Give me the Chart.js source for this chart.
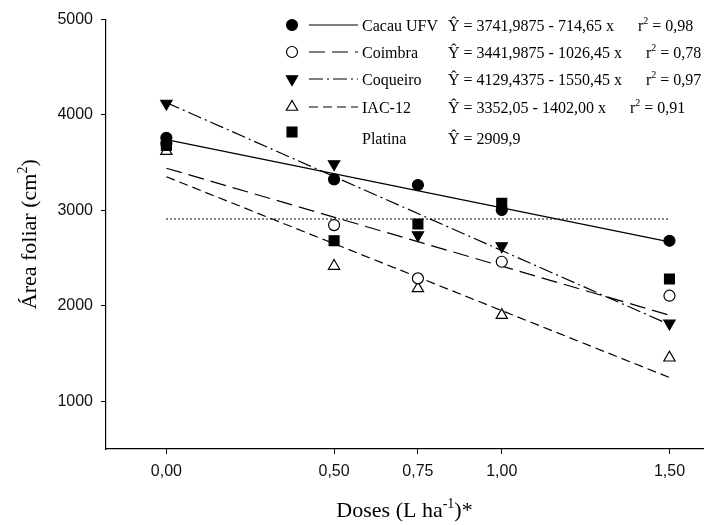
<!DOCTYPE html>
<html>
<head>
<meta charset="utf-8">
<title>Área foliar em função das doses</title>
<script src="https://cdn.jsdelivr.net/npm/chart.js"></script>
<style>
  html, body { margin: 0; padding: 0; background: #fff; }
  #wrap { width: 714px; height: 525px; }
</style>
</head>
<body>
<div id="wrap"><canvas id="grafico" width="714" height="525"></canvas></div>
<script>
// doses (L/ha) e área foliar média (cm2) por cultivar
const doses = [0, 0.5, 0.75, 1.0, 1.5];
const cultivares = ['Cacau UFV', 'Coimbra', 'Coqueiro', 'IAC-12', 'Platina'];
const cacauUFV = [3760, 3325, 3266, 3004, 2682];
const coimbra  = [3700, 2846, 2288, 2462, 2106];
const coqueiro = [4120, 3486, 2742, 2626, 1816];
const iac12    = [3620, 2417, 2183, 1903, 1456];
const platina  = [3680, 2682, 2857, 3074, 2281];

// coeficientes das regressões ajustadas (Platina = média)
const intercepto = [3741.9875, 3441.9875, 4129.4375, 3352.05, 2909.9];
const inclinacao = [-714.65, -1026.45, -1550.45, -1402.00, 0];
const equacoes = [
  'Ŷ = 3741,9875 - 714,65 x',
  'Ŷ = 3441,9875 - 1026,45 x',
  'Ŷ = 4129,4375 - 1550,45 x',
  'Ŷ = 3352,05 - 1402,00 x',
  'Ŷ = 2909,9'
];
const r2 = ['0,98', '0,78', '0,97', '0,91', null];

const yTicks = [1000, 2000, 3000, 4000, 5000];
const xTicks = [0, 0.5, 0.75, 1.0, 1.5];

const series = [cacauUFV, coimbra, coqueiro, iac12, platina];

const estilos = [
  { pointStyle: 'circle',   radius: 5.5, rotation: 0,   fill: '#000', dash: [],            width: 1.2 },
  { pointStyle: 'circle',   radius: 5.5, rotation: 0,   fill: '#fff', dash: [16, 7],       width: 1.2 },
  { pointStyle: 'triangle', radius: 6.5, rotation: 180, fill: '#000', dash: [14, 4, 2, 4], width: 1.2 },
  { pointStyle: 'triangle', radius: 6.5, rotation: 0,   fill: '#fff', dash: [9, 5],        width: 1.2 },
  { pointStyle: 'rect',     radius: 7,   rotation: 0,   fill: '#000', dash: [1.3, 2.7],    width: 1.3 }
];
// ordem de desenho dos marcadores (menor fica por cima)
const ordemPontos = [0, 2, 4, 3, 1];

const xFim = doses[doses.length - 1];

const datasets = [];
cultivares.forEach((nome, i) => {
  const e = estilos[i];
  datasets.push({
    label: nome,
    data: doses.map((d, j) => ({ x: d, y: series[i][j] })),
    showLine: false,
    pointStyle: e.pointStyle,
    pointRotation: e.rotation,
    pointRadius: e.radius,
    pointHoverRadius: e.radius,
    pointBackgroundColor: e.fill,
    pointBorderColor: '#000',
    pointBorderWidth: 1.2,
    order: ordemPontos[i]
  });
  datasets.push({
    label: nome + ' (ajuste)',
    type: 'line',
    data: [
      { x: 0, y: intercepto[i] },
      { x: xFim, y: intercepto[i] + inclinacao[i] * xFim }
    ],
    showLine: true,
    borderColor: '#000',
    borderWidth: e.width,
    borderDash: e.dash,
    borderCapStyle: 'butt',
    pointRadius: 0,
    fill: false,
    order: 10
  });
});

const serif = '"Liberation Serif", "Times New Roman", serif';

// escreve texto com trechos sobrescritos; devolve a largura
function textoSup(ctx, partes, x, y, tam, medir) {
  let cx = x;
  for (const [t, sup] of partes) {
    const s = sup ? Math.round(tam * 0.62) : tam;
    ctx.font = s + 'px ' + serif;
    if (!medir) ctx.fillText(t, cx, sup ? y - tam * 0.4 : y);
    cx += ctx.measureText(t).width;
  }
  return cx - x;
}

const anotacoes = {
  id: 'anotacoes',
  afterDraw(chart) {
    const ctx = chart.ctx;
    const area = chart.chartArea;
    ctx.save();
    ctx.fillStyle = '#000';
    ctx.textBaseline = 'alphabetic';
    ctx.textAlign = 'left';

    // títulos dos eixos
    const tt = 22;
    const tituloX = [['Doses (L ha'], ['-1', true], [')*']];
    const wx = textoSup(ctx, tituloX, 0, 0, tt, true);
    textoSup(ctx, tituloX, (area.left + area.right) / 2 - wx / 2, 517, tt);

    const tituloY = [['Área foliar (cm'], ['2', true], [')']];
    const wy = textoSup(ctx, tituloY, 0, 0, tt, true);
    ctx.translate(36, (area.top + area.bottom) / 2);
    ctx.rotate(-Math.PI / 2);
    textoSup(ctx, tituloY, -wy / 2, 0, tt);
    ctx.setTransform(1, 0, 0, 1, 0, 0);

    // legenda com equações
    const linhas = [25, 52, 79, 107, 138];
    const fs = 16;
    cultivares.forEach((nome, i) => {
      const e = estilos[i];
      const y = linhas[i];
      const ym = i === 4 ? 132 : y;
      ctx.fillStyle = e.fill;
      ctx.strokeStyle = '#000';
      ctx.lineWidth = 1.2;
      ctx.setLineDash([]);
      Chart.helpers.drawPoint(ctx, {
        pointStyle: e.pointStyle, radius: e.radius, rotation: e.rotation, borderWidth: 1.2
      }, 292, ym);
      if (i < 4) {
        ctx.beginPath();
        ctx.setLineDash(e.dash);
        ctx.moveTo(309, y);
        ctx.lineTo(358, y);
        ctx.stroke();
        ctx.setLineDash([]);
      }
      ctx.fillStyle = '#000';
      ctx.font = fs + 'px ' + serif;
      ctx.fillText(nome, 362, y + 5.5);
      const we = textoSup(ctx, [[equacoes[i]]], 448, y + 5.5, fs);
      if (r2[i]) {
        textoSup(ctx, [['r'], ['2', true], [' = ' + r2[i]]], 448 + we + 24, y + 5.5, fs);
      }
    });
    ctx.restore();
  }
};

const sans = '"Liberation Sans", Arial, sans-serif';

new Chart(document.getElementById('grafico'), {
  type: 'scatter',
  data: { datasets },
  options: {
    responsive: false,
    animation: false,
    devicePixelRatio: 1,
    layout: { padding: { top: 19.5, right: 11, left: 0, bottom: 0 } },
    plugins: {
      legend: { display: false },
      tooltip: { enabled: false }
    },
    scales: {
      x: {
        type: 'linear',
        min: -0.18,
        max: 1.6,
        afterBuildTicks: s => { s.ticks = xTicks.map(v => ({ value: v })); },
        afterFit: s => { s.height = 76; },
        grid: { drawOnChartArea: false, tickLength: 5, tickColor: '#000', tickWidth: 1 },
        border: { display: true, color: '#000', width: 1.2 },
        ticks: {
          color: '#111',
          font: { family: sans, size: 16 },
          padding: 8,
          maxRotation: 0,
          callback: v => v.toFixed(2).replace('.', ',')
        }
      },
      y: {
        type: 'linear',
        min: 500,
        max: 5000,
        afterBuildTicks: s => { s.ticks = yTicks.map(v => ({ value: v })); },
        afterFit: s => { s.width = 106; },
        grid: { drawOnChartArea: false, tickLength: 5, tickColor: '#000', tickWidth: 1 },
        border: { display: true, color: '#000', width: 1.2 },
        ticks: {
          color: '#111',
          font: { family: sans, size: 16 },
          padding: 8,
          callback: v => String(v)
        }
      }
    }
  },
  plugins: [anotacoes]
});
</script>
</body>
</html>
